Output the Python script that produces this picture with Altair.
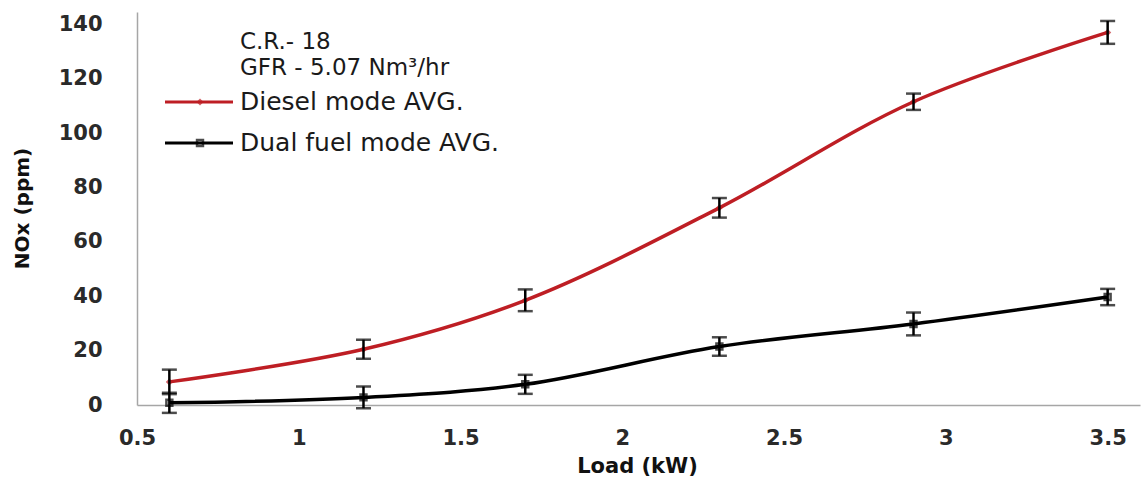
import altair as alt
import pandas as pd

load = [0.6, 1.2, 1.7, 2.3, 2.9, 3.5]
diesel = [8.5, 20.5, 38.5, 72.5, 111.5, 137.0]
diesel_err = [4.5, 3.5, 4.0, 3.6, 3.0, 4.2]
dual = [0.8, 2.8, 7.6, 21.5, 29.8, 39.7]
dual_err = [3.7, 4.0, 3.5, 3.4, 4.2, 3.0]
x_ticks = [0.5, 1, 1.5, 2, 2.5, 3, 3.5]
y_ticks = [0, 20, 40, 60, 80, 100, 120, 140]

FONT = "DejaVu Sans"
RED = "#BE1E24"

rows = []
for i, x in enumerate(load):
    rows.append({"load": x, "series": "Diesel mode AVG.", "v": diesel[i],
                 "lo": diesel[i] - diesel_err[i], "hi": diesel[i] + diesel_err[i]})
for i, x in enumerate(load):
    rows.append({"load": x, "series": "Dual fuel mode AVG.", "v": dual[i],
                 "lo": dual[i] - dual_err[i], "hi": dual[i] + dual_err[i]})
df = pd.DataFrame(rows)

xs = alt.Scale(domain=[0.5, 3.6], nice=False, zero=False)
ys = alt.Scale(domain=[0, 144.5], nice=False)

xaxis = alt.Axis(values=x_ticks, grid=False, ticks=False, domainColor="#A6A6A6",
                 domainWidth=1.5, labelFont=FONT, labelFontSize=21, labelFontWeight="bold",
                 labelColor="#2a2a2a", labelPadding=22, labelFlush=False,
                 title="Load (kW)", titleFont=FONT, titleFontSize=21,
                 titleFontWeight="bold", titleColor="#111", titleX=500, titleY=61,
                 titleAlign="center", titleBaseline="middle", format="")
yaxis = alt.Axis(values=y_ticks, grid=False, ticks=False, domainColor="#A6A6A6",
                 domainWidth=1.5, labelFont=FONT, labelFontSize=21, labelFontWeight="bold",
                 labelColor="#2a2a2a", labelPadding=35,
                 title="NOx (ppm)", titleFont=FONT, titleFontSize=20,
                 titleFontWeight="bold", titleColor="#111", titleX=-115, titleY=196,
                 titleAngle=270, titleAlign="center", titleBaseline="middle")

X = alt.X("load:Q", scale=xs, axis=xaxis)
Y = alt.Y("v:Q", scale=ys, axis=yaxis)

dsl = df[df.series == "Diesel mode AVG."]
dul = df[df.series == "Dual fuel mode AVG."]

line_d = alt.Chart(dsl).mark_line(color=RED, strokeWidth=3.5, interpolate="catmull-rom").encode(x=X, y=Y)
line_u = alt.Chart(dul).mark_line(color="#000", strokeWidth=3.5, interpolate="catmull-rom").encode(x=X, y=Y)
pts_d = alt.Chart(dsl).mark_point(shape="diamond", filled=True, color=RED, size=50).encode(
    x=alt.X("load:Q", scale=xs), y=alt.Y("v:Q", scale=ys))
pts_u = alt.Chart(dul).mark_point(shape="square", filled=False, color="#000", strokeWidth=2.5, size=35).encode(
    x=alt.X("load:Q", scale=xs), y=alt.Y("v:Q", scale=ys))

err = alt.Chart(df).mark_rule(color="#000", strokeWidth=2.5).encode(
    x=alt.X("load:Q", scale=xs), y=alt.Y("lo:Q", scale=ys), y2="hi:Q")
cap_lo = alt.Chart(df).mark_tick(color="#000", orient="horizontal", size=15, thickness=2.5).encode(
    x=alt.X("load:Q", scale=xs), y=alt.Y("lo:Q", scale=ys))
cap_hi = alt.Chart(df).mark_tick(color="#000", orient="horizontal", size=15, thickness=2.5).encode(
    x=alt.X("load:Q", scale=xs), y=alt.Y("hi:Q", scale=ys))

# annotation / legend
notes = ["C.R.- 18", "GFR - 5.07 Nm³/hr"]
leg_labels = ["Diesel mode AVG.", "Dual fuel mode AVG."]
leg_colors = [RED, "#000"]

note_layers = []
for i, t in enumerate(notes):
    note_layers.append(alt.Chart(pd.DataFrame({"t": [t]})).mark_text(
        font=FONT, fontSize=23, color="#1a1a1a", align="left", baseline="middle").encode(
        x=alt.value(103), y=alt.value(30 + 26 * i), text="t:N"))
for i, t in enumerate(leg_labels):
    yy = 90 + 41 * i
    note_layers.append(alt.Chart(pd.DataFrame({"t": [t]})).mark_text(
        font=FONT, fontSize=25, color="#1a1a1a", align="left", baseline="middle").encode(
        x=alt.value(103), y=alt.value(yy), text="t:N"))
    note_layers.append(alt.Chart(pd.DataFrame({"t": [t]})).mark_rule(
        color=leg_colors[i], strokeWidth=3).encode(
        x=alt.value(28), x2=alt.value(96), y=alt.value(yy)))
    if i == 0:
        note_layers.append(alt.Chart(pd.DataFrame({"t": [t]})).mark_point(
            shape="diamond", filled=True, color=RED, size=50).encode(
            x=alt.value(63), y=alt.value(yy)))
    else:
        note_layers.append(alt.Chart(pd.DataFrame({"t": [t]})).mark_point(
            shape="square", filled=False, color="#000", strokeWidth=2.5, size=35).encode(
            x=alt.value(63), y=alt.value(yy)))

chart = alt.layer(line_d, line_u, pts_d, pts_u, err, cap_lo, cap_hi, *note_layers).properties(
    width=1003, height=393,
    autosize=alt.AutoSizeParams(type="none"),
    padding={"left": 137, "top": 12, "right": 3, "bottom": 80},
    background="white",
).configure_view(stroke=None)

chart.save("out.html", embed_options={"renderer": "svg", "actions": False})
